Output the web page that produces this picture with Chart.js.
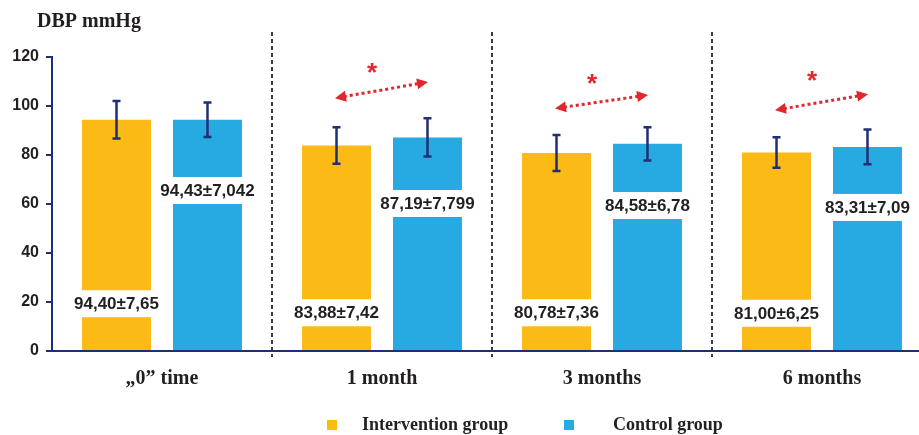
<!DOCTYPE html>
<html>
<head>
<meta charset="utf-8">
<script src="https://cdn.jsdelivr.net/npm/chart.js@4.4.1/dist/chart.umd.min.js"></script>
<style>
    html, body { margin: 0; padding: 0; background: #fff; overflow: hidden; }
    #wrap { width: 935px; height: 435px; position: relative; }
</style>
</head>
<body>
<div id="wrap"><canvas id="dbpChart" width="935" height="435"></canvas></div>
<script>
const categories = ['\u201E0\u201D time', '1 month', '3 months', '6 months'];
const intervention = [94.40, 83.88, 80.78, 81.00];
const interventionSd = [7.65, 7.42, 7.36, 6.25];
const control = [94.43, 87.19, 84.58, 83.31];
const controlSd = [7.042, 7.799, 6.78, 7.09];
const interventionText = ['94,40\u00B17,65', '83,88\u00B17,42', '80,78\u00B17,36', '81,00\u00B16,25'];
const controlText = ['94,43\u00B17,042', '87,19\u00B17,799', '84,58\u00B16,78', '83,31\u00B17,09'];
const significant = [false, true, true, true];

// where the value labels sit inside the bars (axis units)
const interventionLabelAt = [19.3, 15.6, 15.6, 15.4];
const controlLabelAt = [65.5, 60.2, 59.4, 58.6];
// red arrows: left tip, right tip, asterisk (axis units)
const arrowLeft = [0, 103.2, 99.0, 98.3];
const arrowRight = [0, 109.8, 104.5, 104.8];
const starAt = [0, 115.1, 110.6, 111.8];

const NAVY = '#1f2f75';
const RED = '#e2262b';
const TEXT = '#231f20';
const SERIF = '"Liberation Serif", "Times New Roman", serif';
const SANS = '"Liberation Sans", Arial, sans-serif';

function arrowHead(ctx, x, y, ang) {
    const len = 11, half = 5.5;
    ctx.beginPath();
    ctx.moveTo(x, y);
    ctx.lineTo(x - len * Math.cos(ang) + half * Math.sin(ang), y - len * Math.sin(ang) - half * Math.cos(ang));
    ctx.lineTo(x - len * Math.cos(ang) - half * Math.sin(ang), y - len * Math.sin(ang) + half * Math.cos(ang));
    ctx.closePath();
    ctx.fill();
}

const decor = {
    id: 'decor',
    afterDatasetsDraw(chart) {
        const ctx = chart.ctx;
        const y = chart.scales.y;
        const texts = [interventionText, controlText];
        const levels = [interventionLabelAt, controlLabelAt];
        const sds = [interventionSd, controlSd];
        ctx.save();
        chart.data.datasets.forEach(function (ds, di) {
            const meta = chart.getDatasetMeta(di);
            meta.data.forEach(function (bar, i) {
                // value label on a white strip
                ctx.font = 'bold 17px ' + SANS;
                const w = ctx.measureText(texts[di][i]).width;
                const ly = y.getPixelForValue(levels[di][i]);
                ctx.fillStyle = '#fff';
                ctx.fillRect(bar.x - w / 2 - 3, ly - 13.5, w + 6, 27);
                ctx.fillStyle = TEXT;
                ctx.textAlign = 'center';
                ctx.textBaseline = 'middle';
                ctx.fillText(texts[di][i], bar.x, ly + 1);

                // error bar
                const v = ds.data[i];
                const top = y.getPixelForValue(v + sds[di][i]);
                const bot = y.getPixelForValue(v - sds[di][i]);
                ctx.strokeStyle = NAVY;
                ctx.lineWidth = 2.5;
                ctx.beginPath();
                ctx.moveTo(bar.x, top); ctx.lineTo(bar.x, bot);
                ctx.moveTo(bar.x - 4, top); ctx.lineTo(bar.x + 4, top);
                ctx.moveTo(bar.x - 4, bot); ctx.lineTo(bar.x + 4, bot);
                ctx.stroke();
            });
        });
        ctx.restore();
    },
    afterDraw(chart) {
        const ctx = chart.ctx;
        const x = chart.scales.x;
        const y = chart.scales.y;
        const area = chart.chartArea;
        ctx.save();

        // dashed separators between time points
        ctx.strokeStyle = '#3a3a3a';
        ctx.lineWidth = 2;
        ctx.setLineDash([4, 3]);
        for (let i = 0; i < categories.length - 1; i++) {
            const sx = Math.round((x.getPixelForValue(i) + x.getPixelForValue(i + 1)) / 2);
            ctx.beginPath();
            ctx.moveTo(sx, 32);
            ctx.lineTo(sx, area.bottom + 6);
            ctx.stroke();
        }

        // significance arrows
        significant.forEach(function (sig, i) {
            if (!sig) return;
            const cx = x.getPixelForValue(i);
            const x1 = cx - 47, y1 = y.getPixelForValue(arrowLeft[i]);
            const x2 = cx + 46, y2 = y.getPixelForValue(arrowRight[i]);
            const ang = Math.atan2(y2 - y1, x2 - x1);
            ctx.strokeStyle = RED;
            ctx.fillStyle = RED;
            ctx.lineWidth = 3;
            ctx.setLineDash([3, 3]);
            ctx.beginPath();
            ctx.moveTo(x1 + 9 * Math.cos(ang), y1 + 9 * Math.sin(ang));
            ctx.lineTo(x2 - 9 * Math.cos(ang), y2 - 9 * Math.sin(ang));
            ctx.stroke();
            ctx.setLineDash([]);
            arrowHead(ctx, x2, y2, ang);
            arrowHead(ctx, x1, y1, ang + Math.PI);
            ctx.font = 'bold 26px ' + SANS;
            ctx.textAlign = 'center';
            ctx.textBaseline = 'middle';
            ctx.fillText('*', cx - 10, y.getPixelForValue(starAt[i]) + 5);
        });

        // axis title
        ctx.fillStyle = TEXT;
        ctx.font = 'bold 20px ' + SERIF;
        ctx.textAlign = 'left';
        ctx.textBaseline = 'middle';
        ctx.fillText('DBP mmHg', 37, 22);

        // legend
        const legendX = [[327, 362], [564, 613]];
        ctx.font = 'bold 18px ' + SERIF;
        chart.data.datasets.forEach(function (ds, di) {
            ctx.fillStyle = ds.backgroundColor;
            ctx.fillRect(legendX[di][0], 420, 10, 10);
            ctx.fillStyle = TEXT;
            ctx.fillText(ds.label, legendX[di][1], 425);
        });
        ctx.restore();
    }
};

new Chart(document.getElementById('dbpChart').getContext('2d'), {
    type: 'bar',
    data: {
        labels: categories,
        datasets: [{
            label: 'Intervention group',
            data: intervention,
            backgroundColor: '#fbba16',
            barPercentage: 0.758,
            categoryPercentage: 0.827
        }, {
            label: 'Control group',
            data: control,
            backgroundColor: '#27a9e1',
            barPercentage: 0.758,
            categoryPercentage: 0.827
        }]
    },
    options: {
        responsive: false,
        animation: false,
        layout: { padding: { left: 0, right: 3, top: 57, bottom: 28 } },
        plugins: { legend: { display: false }, tooltip: { enabled: false } },
        scales: {
            x: {
                grid: { display: false, drawTicks: false },
                border: { color: NAVY, width: 2 },
                ticks: { color: TEXT, padding: 16, font: { family: SERIF, weight: 'bold', size: 20 } }
            },
            y: {
                min: 0,
                max: 120,
                afterFit: function (s) { s.width = 52; },
                grid: { drawOnChartArea: false, tickLength: 6, color: NAVY, lineWidth: 2 },
                border: { color: NAVY, width: 2 },
                ticks: { stepSize: 20, padding: 7, color: TEXT, font: { family: SANS, weight: 'bold', size: 16 } }
            }
        }
    },
    plugins: [decor]
});
</script>
</body>
</html>
